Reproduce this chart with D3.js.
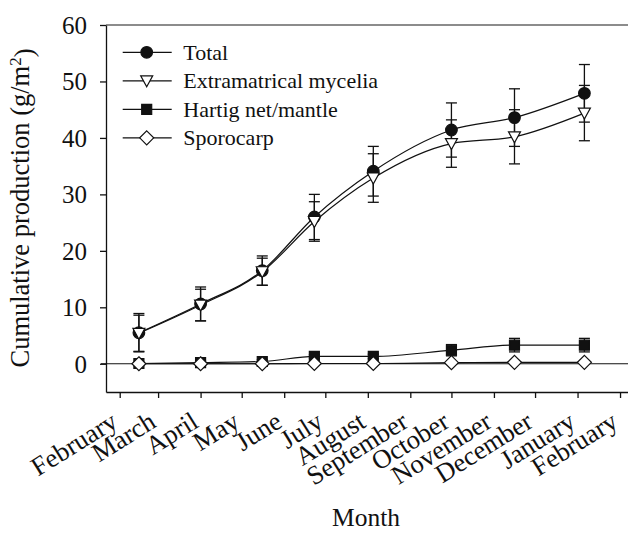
<!DOCTYPE html>
<meta charset="utf-8">
<script src="https://d3js.org/d3.v7.min.js"></script>
<style>
  body { margin: 0; background: #fff; }
  text { font-family: "Liberation Serif", "Times New Roman", serif; fill: #111; }
</style>
<body>
<div id="chart"></div>
<script>
    // sampling dates (UTC)
    var sampleDates = ["2005-02-15", "2005-04-01", "2005-05-16", "2005-06-23",
                       "2005-08-05", "2005-10-01", "2005-11-16", "2006-01-06"];

    // cumulative production, g/m2, with error bars
    var total      = [5.5, 10.6, 16.5, 26.0, 34.1, 41.4, 43.6, 47.9];
    var totalErr   = [3.4, 3.0, 2.6, 4.0, 4.4, 4.8, 5.1, 5.1];
    var mycelia    = [5.4, 10.4, 16.3, 25.2, 32.9, 39.0, 40.2, 44.4];
    var myceliaErr = [3.2, 2.8, 2.4, 3.5, 4.3, 4.2, 4.8, 4.9];
    var hartig     = [0.05, 0.2, 0.4, 1.3, 1.3, 2.4, 3.3, 3.3];
    var hartigErr  = [0.1, 0.3, 0.3, 0.3, 0.4, 1.0, 1.2, 1.2];
    var sporocarp  = [0, 0, 0, 0.05, 0.05, 0.2, 0.25, 0.25];
    var sporoErr   = [0.05, 0.05, 0.05, 0.05, 0.05, 0.1, 0.1, 0.1];

    // x axis ticks: first of each month, Feb 2005 .. Feb 2006
    var tickDates = ["2005-02-01", "2005-03-01", "2005-04-01", "2005-05-01", "2005-06-01",
                     "2005-07-01", "2005-08-01", "2005-09-01", "2005-10-01", "2005-11-01",
                     "2005-12-01", "2006-01-01", "2006-02-01"];
    var tickLabels = ["February", "March", "April", "May", "June", "July", "August",
                      "September", "October", "November", "December", "January", "February"];
    var yTicks = [0, 10, 20, 30, 40, 50, 60];

    var seriesNames = ["Total", "Extramatrical mycelia", "Hartig net/mantle", "Sporocarp"];
    var seriesShapes = ["circle", "triangle", "square", "diamond"];

    var parse = d3.utcParse("%Y-%m-%d");
    var dates = sampleDates.map(parse);

    var series = [
        {name: seriesNames[0], shape: seriesShapes[0], v: total, e: totalErr},
        {name: seriesNames[1], shape: seriesShapes[1], v: mycelia, e: myceliaErr},
        {name: seriesNames[2], shape: seriesShapes[2], v: hartig, e: hartigErr},
        {name: seriesNames[3], shape: seriesShapes[3], v: sporocarp, e: sporoErr}
    ];

    var width = 628, height = 539;
    var svg = d3.select("#chart").append("svg")
        .attr("width", width)
        .attr("height", height);

    // plot frame runs off the right edge, as in the original
    var x = d3.scaleUtc()
        .domain([parse("2005-01-22"), parse("2006-02-16")])
        .range([106, 640.6]);
    var y = d3.scaleLinear()
        .domain([-5, 60])
        .range([392, 25]);

    // top frame line
    svg.append("line")
        .attr("x1", 106).attr("x2", width)
        .attr("y1", y(60)).attr("y2", y(60))
        .attr("stroke", "#666").attr("stroke-width", 1.3);

    // zero line
    svg.append("line")
        .attr("x1", 101).attr("x2", width)
        .attr("y1", y(0)).attr("y2", y(0))
        .attr("stroke", "#111").attr("stroke-width", 1.2);

    // Y axis
    var yAxis = svg.append("g")
        .attr("transform", "translate(106,0)")
        .call(d3.axisLeft(y).tickValues(yTicks).tickSize(6).tickPadding(13).tickSizeOuter(0));
    yAxis.selectAll("text").style("font-size", "25px").attr("dy", "0.34em");
    yAxis.selectAll("path, line").attr("stroke", "#111").attr("stroke-width", 1.3);

    // X axis
    var xAxis = svg.append("g")
        .attr("transform", "translate(0,392)")
        .call(d3.axisBottom(x)
            .tickValues(tickDates.map(parse))
            .tickFormat(function(d, i) { return tickLabels[i]; })
            .tickSize(6).tickSizeOuter(0));
    xAxis.selectAll("path, line").attr("stroke", "#111").attr("stroke-width", 1.3);
    xAxis.selectAll("text")
        .style("font-size", "26.5px")
        .style("text-anchor", "end")
        .attr("y", 0).attr("dy", 0)
        .attr("transform", "translate(-1,34) rotate(-32)");

    // axis titles
    svg.append("text")
        .attr("x", 366).attr("y", 526)
        .attr("text-anchor", "middle")
        .style("font-size", "25.5px")
        .text("Month");

    var yTitle = svg.append("text")
        .attr("transform", "translate(29,208) rotate(-90)")
        .attr("text-anchor", "middle")
        .style("font-size", "26.5px");
    yTitle.append("tspan").text("Cumulative production (g/m");
    yTitle.append("tspan").attr("dy", "-0.45em").style("font-size", "17px").text("2");
    yTitle.append("tspan").attr("dy", "0.45em").text(")");

    // marker shapes
    function markerPath(shape) {
        if (shape == "circle") return d3.symbol().type(d3.symbolCircle).size(106)();
        if (shape == "square") return "M-5,-5H5V5H-5Z";
        if (shape == "triangle") return "M-6,-5L6,-5L0,6Z";
        return "M0,-7L7,0L0,7L-7,0Z";
    }
    function markerFill(shape) {
        return (shape == "circle" || shape == "square") ? "#111" : "#fff";
    }

    var line = d3.line()
        .x(function(d) { return x(d.date); })
        .y(function(d) { return y(d.value); })
        .curve(d3.curveMonotoneX);

    series.forEach(function(s) {
        s.points = dates.map(function(d, i) { return {date: d, value: s.v[i], err: s.e[i]}; });
    });

    // lines
    svg.selectAll(".series-line")
        .data(series)
        .enter()
        .append("path")
        .attr("class", "series-line")
        .attr("d", function(s) { return line(s.points); })
        .attr("fill", "none")
        .attr("stroke", "#111")
        .attr("stroke-width", 1.2);

    // error bars
    var capW = 5.5;
    series.forEach(function(s) {
        var g = svg.append("g").attr("stroke", "#111").attr("stroke-width", 1.3);
        s.points.forEach(function(p) {
            var cx = x(p.date), top = y(p.value + p.err), bot = y(p.value - p.err);
            g.append("line").attr("x1", cx).attr("x2", cx).attr("y1", top).attr("y2", bot);
            g.append("line").attr("x1", cx - capW).attr("x2", cx + capW).attr("y1", top).attr("y2", top);
            g.append("line").attr("x1", cx - capW).attr("x2", cx + capW).attr("y1", bot).attr("y2", bot);
        });
    });

    // markers
    series.forEach(function(s) {
        svg.append("g").selectAll("path")
            .data(s.points)
            .enter()
            .append("path")
            .attr("transform", function(p) { return "translate(" + x(p.date) + "," + y(p.value) + ")"; })
            .attr("d", markerPath(s.shape))
            .attr("fill", markerFill(s.shape))
            .attr("stroke", "#111")
            .attr("stroke-width", 1.2);
    });

    // legend
    var legend = svg.append("g")
        .selectAll("g")
        .data(series)
        .enter()
        .append("g")
        .attr("transform", function(s, i) { return "translate(0," + (52.3 + i * 28.5) + ")"; });
    legend.append("line")
        .attr("x1", 122.7).attr("x2", 171.7)
        .attr("stroke", "#111").attr("stroke-width", 1.2);
    legend.append("path")
        .attr("transform", "translate(146.7,0)")
        .attr("d", function(s) { return markerPath(s.shape); })
        .attr("fill", function(s) { return markerFill(s.shape); })
        .attr("stroke", "#111")
        .attr("stroke-width", 1.2);
    legend.append("text")
        .attr("x", 183.3)
        .attr("dy", "0.33em")
        .style("font-size", "22px")
        .text(function(s) { return s.name; });
</script>
</body>
